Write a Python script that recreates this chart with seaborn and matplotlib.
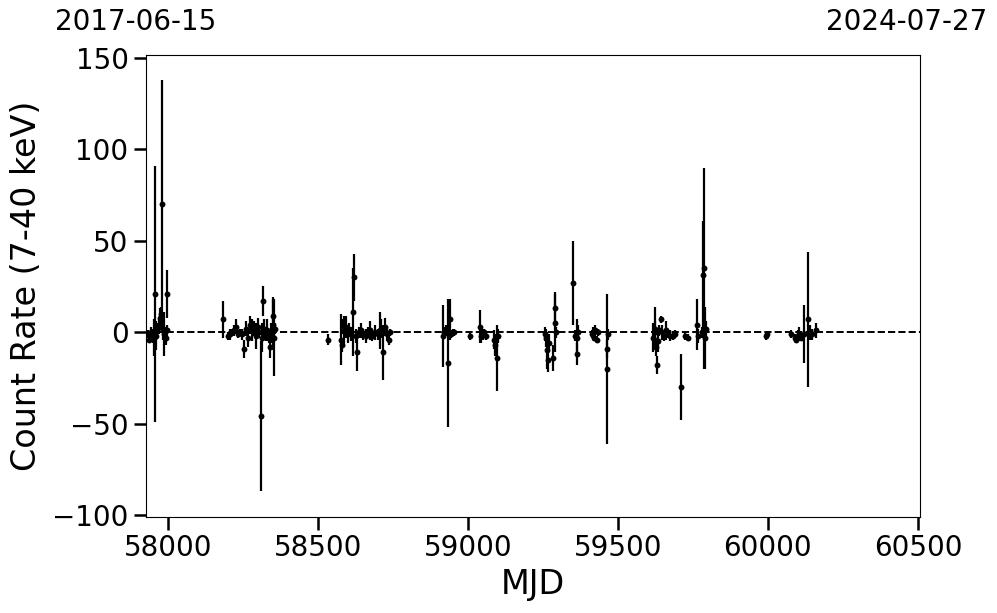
import numpy as np
import pandas as pd
import matplotlib
matplotlib.use("Agg")
import matplotlib.pyplot as plt
import seaborn as sns

# Curva de luz: MJD, taxa de contagem (7-40 keV) e erro (1 sigma)
mjd = [57935, 57938, 57945, 57950, 57955, 57957, 57960, 57965, 57970, 57975,
       57978, 57982, 57984, 57987, 57990, 57993, 57996, 57998,
       58185, 58200, 58206, 58212, 58220, 58228, 58235, 58240, 58248, 58255,
       58262, 58268, 58275, 58282, 58288, 58295, 58300, 58305, 58312, 58315,
       58318, 58322, 58328, 58332, 58337, 58340, 58344, 58347, 58350, 58352,
       58353, 58356,
       58535,
       58578, 58580, 58583, 58586, 58590, 58595, 58600, 58605, 58612, 58618,
       58622, 58626, 58630, 58638, 58645, 58652, 58660, 58668, 58675, 58682,
       58690, 58700, 58708, 58712, 58716, 58725, 58730, 58736, 58742,
       58918, 58922, 58928, 58935, 58940, 58945, 58950, 58955,
       59008,
       59040, 59045, 59050, 59055, 59060, 59088, 59092, 59098, 59100,
       59258, 59262, 59265, 59268, 59272, 59285, 59290, 59292, 59295,
       59352, 59358, 59362, 59365, 59368,
       59412, 59417, 59420, 59425, 59430, 59435,
       59462, 59465, 59468,
       59618, 59622, 59625, 59628, 59630, 59633, 59636, 59642, 59648, 59655,
       59660, 59668, 59675, 59685, 59690,
       59710, 59725, 59732,
       59762, 59768, 59780, 59784, 59787, 59790, 59793,
       59995, 59997,
       60078, 60090, 60095, 60100, 60105, 60110, 60120, 60135, 60140, 60148,
       60160]

rate = [-1, -4, 0, -2, -3, 21, -2, 1, 3, 8,
        10, 70, 2, -1, 0, -3, 1, 21,
        7, -2, -1, 0, 1, 3, -1, 0, -1, -9,
        2, -3, 4, 1, 2, -2, 3, 0, -46, -3,
        17, 2, -1, 1, -3, -8, 0, -2, 4, 9,
        -3, 2,
        -4,
        -4, -7, 3, 1, 0, 3, -1, 2, -1, 11,
        30, -2, -11, 0, 1, -1, -2, 0, 1, -2,
        0, -1, 1, 2, -11, 3, -1, -4, 0,
        -2, 0, 1, -17, 7, -1, 0, 0,
        -2,
        3, -2, -1, 0, -2, -4, -7, -14, -2,
        -1, -3, -10, -15, -6, -14, 5, 13, 0,
        27, -2, -12, -3, 0,
        -1, 0, -3, 1, -4, 0,
        -20, -9, -1,
        -3, 0, 2, -8, -18, -5, 1, 7, 0, -2,
        1, -1, -2, -2, -1,
        -30, -2, -3,
        4, -2, 0, 31, 35, -3, 2,
        -2, -1,
        -1, -3, -4, -2, -1, -3, -1, 7, 0, -1,
        1]

err = [2, 2, 3, 4, 10, 70, 8, 4, 4, 5,
       4, 68, 6, 12, 3, 4, 3, 13,
       10, 2, 3, 2, 3, 4, 2, 2, 3, 5,
       4, 5, 5, 6, 4, 7, 5, 3, 41, 8,
       8, 5, 4, 6, 3, 6, 5, 4, 14, 10,
       21, 3,
       3,
       14, 4, 4, 8, 3, 6, 5, 3, 4, 24,
       13, 4, 10, 3, 4, 3, 4, 3, 5, 3,
       4, 3, 10, 5, 15, 5, 4, 3, 2,
       17, 3, 3, 35, 11, 2, 2, 2,
       2,
       9, 4, 3, 2, 2, 5, 6, 18, 4,
       4, 5, 10, 7, 5, 7, 16, 9, 3,
       23, 3, 6, 10, 4,
       2, 3, 2, 3, 2, 2,
       41, 5, 3,
       8, 6, 12, 5, 5, 6, 3, 2, 4, 3,
       5, 2, 3, 2, 2,
       18, 2, 2,
       14, 4, 3, 30, 55, 17, 4,
       2, 1,
       2, 2, 2, 3, 4, 2, 16, 37, 4, 3,
       4]

date_start = "2017-06-15"
date_end = "2024-07-27"
mjd_start = 57927
mjd_end = 60507

df = pd.DataFrame({"MJD": mjd, "rate": rate, "err": err})

sns.set_style("ticks")
plt.rcParams['font.family'] = ['DejaVu Sans']
plt.rcParams['text.color'] = 'black'
plt.rcParams['axes.labelcolor'] = 'black'
plt.rcParams['xtick.color'] = 'black'
plt.rcParams['ytick.color'] = 'black'

fig = plt.figure(figsize=(9.97, 6.13), dpi=100)
ax = fig.add_axes([0.1464, 0.1566, 0.7764, 0.7537])

# barras de erro primeiro, pontos por cima
ax.errorbar(df["MJD"], df["rate"], yerr=df["err"], fmt="none",
            ecolor="black", elinewidth=1.6, zorder=2)
sns.scatterplot(data=df, x="MJD", y="rate", color="black", s=18,
                edgecolor="black", linewidth=0, ax=ax, zorder=3)
ax.axhline(0, color="black", ls="--", lw=1.4, zorder=1)

ax.set_xlim(mjd_start, mjd_end)
ax.set_ylim(-101, 151.5)
ax.set_xticks([58000, 58500, 59000, 59500, 60000, 60500])
ax.set_yticks([-100, -50, 0, 50, 100, 150])
ax.set_xlabel("MJD", fontsize=24)
ax.set_ylabel("Count Rate (7-40 keV)", fontsize=24, labelpad=7)
ax.tick_params(axis="both", labelsize=20, length=9, width=1.8, colors="black")
for sp in ax.spines.values():
    sp.set_linewidth(0.8)
    sp.set_color("black")

# datas no topo
fig.text(136 / 997, 1 - 22 / 613, date_start, fontsize=20, ha="center", va="center", color="black")
fig.text(907 / 997, 1 - 22 / 613, date_end, fontsize=20, ha="center", va="center", color="black")

fig.savefig("out.png", dpi=100)
